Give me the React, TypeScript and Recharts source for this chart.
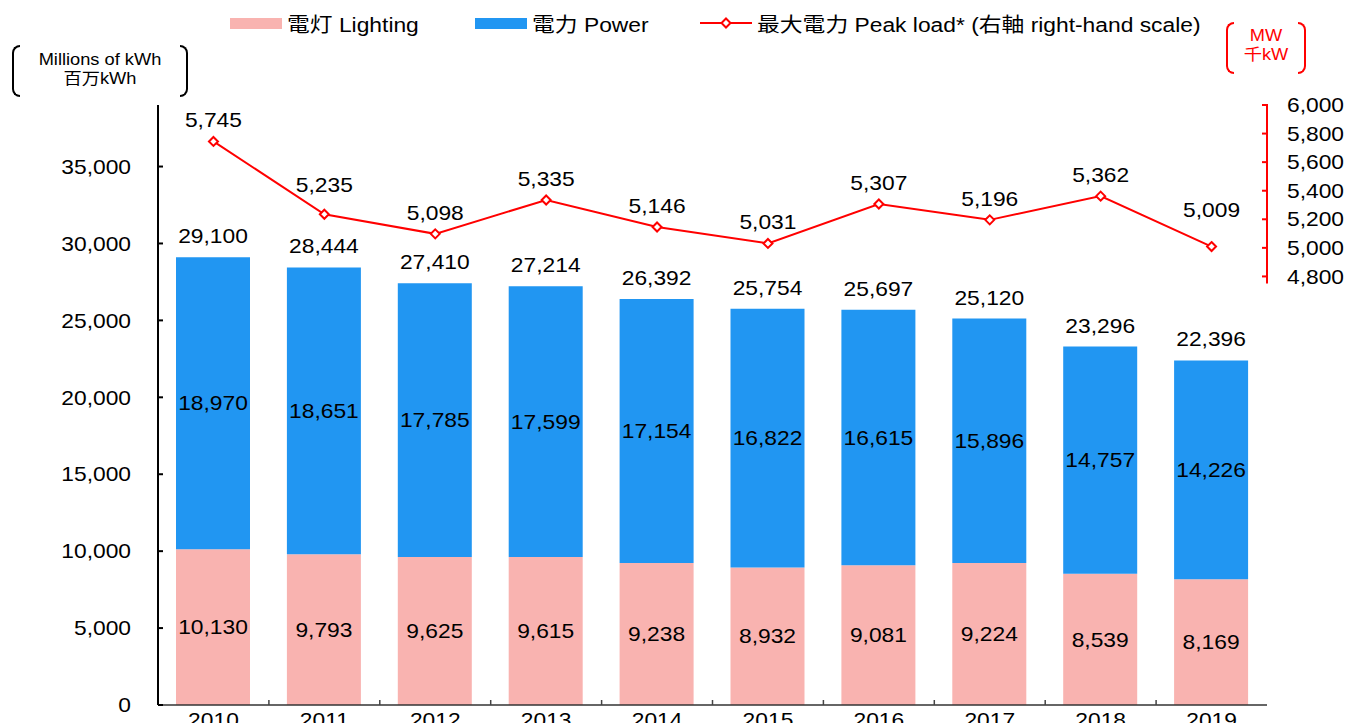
import React from "react";
import { ComposedChart, Bar, Line, XAxis, YAxis, LabelList } from "recharts";

const years = ["2010", "2011", "2012", "2013", "2014", "2015", "2016", "2017", "2018", "2019"];
const lighting = [10130, 9793, 9625, 9615, 9238, 8932, 9081, 9224, 8539, 8169];
const power = [18970, 18651, 17785, 17599, 17154, 16822, 16615, 15896, 14757, 14226];
const totals = [29100, 28444, 27410, 27214, 26392, 25754, 25697, 25120, 23296, 22396];
const peakLoad = [5745, 5235, 5098, 5335, 5146, 5031, 5307, 5196, 5362, 5009];
const leftTicks = [0, 5000, 10000, 15000, 20000, 25000, 30000, 35000];
const rightTicks = [4800, 5000, 5200, 5400, 5600, 5800, 6000];

const data = years.map((year, i) => ({
  year,
  lighting: lighting[i],
  power: power[i],
  total: totals[i],
  peak: peakLoad[i],
}));

const FONT = "'Liberation Sans', Arial, 'Noto Sans CJK JP', sans-serif";
const FS = 20;
const SX = 1.14; // text in the picture is a bit stretched sideways
const PINK = "#F9B3B0";
const BLUE = "#2196F2";
const RED = "#FF0000";

const W = 1348;
const H = 740;
const margin = { top: 105, right: 0, bottom: 5, left: 78 };
const plotW = W - margin.left - 80 - 81;
const plotH = H - margin.top - margin.bottom - 30;
const rightDomain = [1800, 6000];
const rightStep = (200 * plotH) / (rightDomain[1] - rightDomain[0]);
const BASE = FS * 0.36; // baseline shift to centre digits

// a few peak labels sit higher in the original (moved to avoid the line)
const peakLift: Record<number, number> = { 1: 8, 9: 16 };

const fmt = (v: number) => v.toLocaleString("en-US");

const SText = ({ x, y, anchor = "middle", fill = "#000", size = FS, children }: any) => (
  <text
    transform={`translate(${x},${y}) scale(${SX},1)`}
    textAnchor={anchor}
    fontSize={size}
    fontFamily={FONT}
    fill={fill}
  >
    {children}
  </text>
);

const LeftTick = ({ x, y, payload }: any) => (
  <g>
    <line x1={x} x2={x + 5} y1={y} y2={y} stroke="#000" strokeWidth={2} />
    <SText x={x - 27} y={y + BASE} anchor="end">
      {fmt(payload.value)}
    </SText>
  </g>
);

const RightTick = ({ x, y, payload }: any) => {
  const len = payload.value === 4800 ? 7 : rightStep;
  return (
    <g>
      <line x1={x} x2={x} y1={y - 1} y2={y + len} stroke={RED} strokeWidth={2} />
      <line x1={x - 5} x2={x} y1={y} y2={y} stroke={RED} strokeWidth={2} />
      <SText x={x + 20} y={y + BASE} anchor="start">
        {fmt(payload.value)}
      </SText>
    </g>
  );
};

const XTick = ({ x, y, payload, index }: any) => (
  <g>
    {index < years.length - 1 && (
      <line
        x1={x + plotW / years.length / 2}
        x2={x + plotW / years.length / 2}
        y1={y - 5}
        y2={y}
        stroke="#444"
        strokeWidth={1.5}
      />
    )}
    <SText x={x} y={y + 22}>
      {payload.value}
    </SText>
  </g>
);

// label in the middle of a bar segment
const CenterLabel = (props: any) => {
  const vb = props.viewBox || props;
  return (
    <SText x={vb.x + vb.width / 2} y={vb.y + vb.height / 2 + BASE}>
      {fmt(props.value)}
    </SText>
  );
};

// label above a bar or point
const TopLabel = (props: any) => {
  const vb = props.viewBox || props;
  const cx = vb.x + (vb.width || 0) / 2;
  const lift = props.lift ? props.lift[props.index] || 0 : 0;
  return (
    <SText x={cx} y={vb.y - 14 - lift}>
      {fmt(props.value)}
    </SText>
  );
};

const Diamond = ({ cx, cy }: any) => {
  if (cx == null || cy == null) return null;
  const r = 4.5;
  return (
    <path
      d={`M${cx},${cy - r}L${cx + r},${cy}L${cx},${cy + r}L${cx - r},${cy}Z`}
      fill="#fff"
      stroke={RED}
      strokeWidth={2}
    />
  );
};

const legendText: React.CSSProperties = {
  fontFamily: FONT,
  fontSize: FS,
  transform: `scaleX(${SX})`,
  transformOrigin: "left center",
  whiteSpace: "nowrap",
  marginLeft: 5,
};

const Bracket = ({ left, top, width, height, color }: any) => (
  <>
    <div
      style={{
        position: "absolute",
        left,
        top,
        width: 6,
        height,
        border: `2px solid ${color}`,
        borderRight: "none",
        borderRadius: "9px 0 0 9px",
      }}
    />
    <div
      style={{
        position: "absolute",
        left: left + width - 8,
        top,
        width: 6,
        height,
        border: `2px solid ${color}`,
        borderLeft: "none",
        borderRadius: "0 9px 9px 0",
      }}
    />
  </>
);

const unitLine = (color: string, size: number): React.CSSProperties => ({
  fontFamily: FONT,
  fontSize: size,
  color,
  textAlign: "center",
  lineHeight: `${size + 3}px`,
  transform: `scaleX(${SX})`,
  whiteSpace: "nowrap",
});

export default function App() {
  return (
    <div
      style={{
        position: "absolute",
        left: 0,
        top: 0,
        width: W,
        height: 723,
        overflow: "hidden",
        background: "#fff",
      }}
    >
      <ComposedChart width={W} height={H} data={data} margin={margin} barSize={74}>
        <XAxis
          dataKey="year"
          height={30}
          tickLine={false}
          tickSize={0}
          tickMargin={0}
          interval={0}
          axisLine={{ stroke: "#333", strokeWidth: 1.5 }}
          tick={<XTick />}
        />
        <YAxis
          yAxisId="left"
          width={80}
          domain={[0, 39000]}
          ticks={leftTicks}
          interval={0}
          tickLine={false}
          tickSize={0}
          tickMargin={0}
          axisLine={{ stroke: "#000", strokeWidth: 2 }}
          tick={<LeftTick />}
        />
        <YAxis
          yAxisId="right"
          orientation="right"
          width={81}
          domain={rightDomain}
          ticks={rightTicks}
          interval={0}
          tickLine={false}
          tickSize={0}
          tickMargin={0}
          axisLine={false}
          tick={<RightTick />}
        />
        <Bar yAxisId="left" dataKey="lighting" stackId="a" fill={PINK} isAnimationActive={false}>
          <LabelList dataKey="lighting" content={<CenterLabel />} />
        </Bar>
        <Bar yAxisId="left" dataKey="power" stackId="a" fill={BLUE} isAnimationActive={false}>
          <LabelList dataKey="power" content={<CenterLabel />} />
          <LabelList dataKey="total" content={<TopLabel />} />
        </Bar>
        <Line
          yAxisId="right"
          dataKey="peak"
          stroke={RED}
          strokeWidth={2}
          dot={<Diamond />}
          activeDot={false}
          isAnimationActive={false}
        >
          <LabelList dataKey="peak" content={<TopLabel lift={peakLift} />} />
        </Line>
      </ComposedChart>

      {/* legend */}
      <div style={{ position: "absolute", left: 230, top: 13, height: 20, display: "flex", alignItems: "center" }}>
        <div style={{ width: 52, height: 11, background: PINK }} />
        <span style={legendText}>電灯 Lighting</span>
      </div>
      <div style={{ position: "absolute", left: 475, top: 13, height: 20, display: "flex", alignItems: "center" }}>
        <div style={{ width: 52, height: 11, background: BLUE }} />
        <span style={legendText}>電力 Power</span>
      </div>
      <div style={{ position: "absolute", left: 700, top: 13, height: 20, display: "flex", alignItems: "center" }}>
        <svg width={52} height={20}>
          <line x1={0} x2={52} y1={10} y2={10} stroke={RED} strokeWidth={2} />
          <path d="M26,5.5L30.5,10L26,14.5L21.5,10Z" fill="#fff" stroke={RED} strokeWidth={2} />
        </svg>
        <span style={legendText}>最大電力 Peak load* (右軸 right-hand scale)</span>
      </div>

      {/* unit labels */}
      <Bracket left={12} top={45} width={176} height={48} color="#000" />
      <div style={{ position: "absolute", left: 20, top: 50, width: 160 }}>
        <div style={unitLine("#000", 16)}>Millions of kWh</div>
        <div style={unitLine("#000", 16)}>百万kWh</div>
      </div>
      <Bracket left={1226} top={22} width={80} height={48} color={RED} />
      <div style={{ position: "absolute", left: 1236, top: 26, width: 60 }}>
        <div style={unitLine(RED, 16)}>MW</div>
        <div style={unitLine(RED, 16)}>千kW</div>
      </div>
    </div>
  );
}
